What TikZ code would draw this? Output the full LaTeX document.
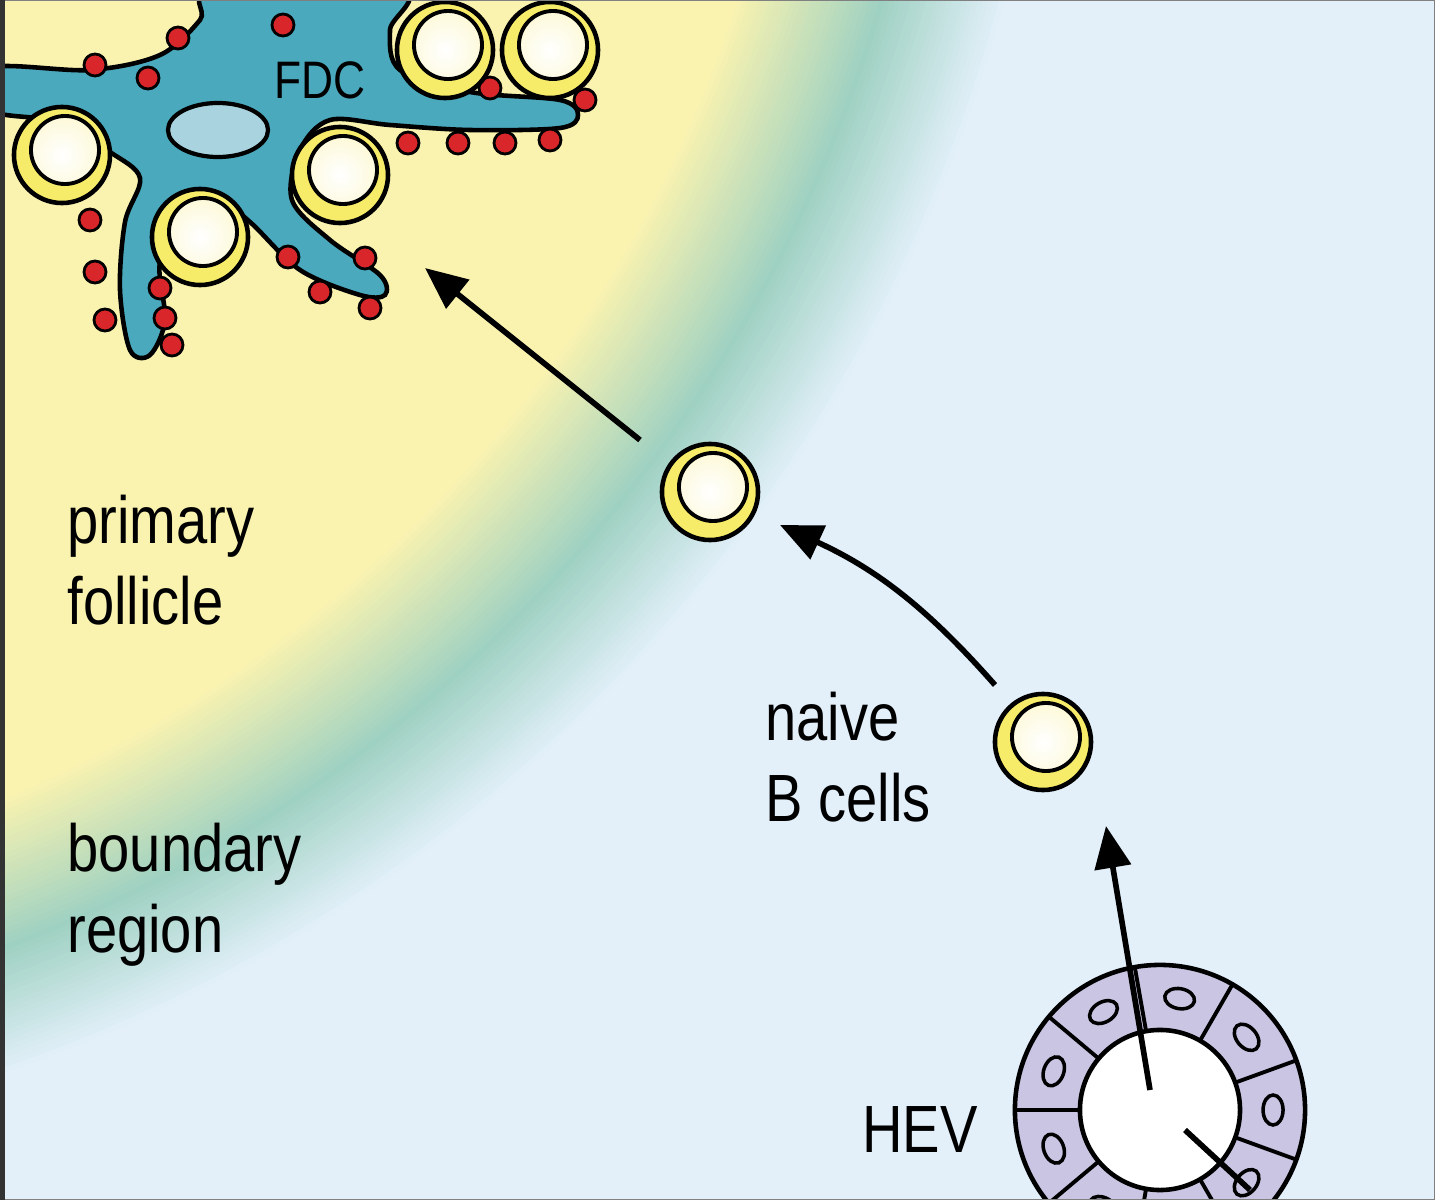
\documentclass[tikz,border=0pt]{standalone}
\usepackage{fontspec}
\setmainfont[FakeStretch=0.84]{Liberation Sans}
\usetikzlibrary{arrows.meta}
\definecolor{bgblue}{HTML}{E3F0FA}
\definecolor{fyellow}{HTML}{FAF3B0}
\definecolor{fgreen}{HTML}{9FD1C2}
\definecolor{fdcteal}{HTML}{4AA9BD}
\definecolor{nucblue}{HTML}{A9D4DF}
\definecolor{hevpurple}{HTML}{C9C5E2}
\definecolor{cellyel}{HTML}{F7EC6A}
\definecolor{dotred}{HTML}{D8262A}
\tikzset{
  bcell/.style={circle,draw=black,line width=1.3pt,fill=cellyel,minimum size=0.96cm,inner sep=0pt,
    path picture={\shade[inner color=white,outer color=fyellow!60!white,draw=black,line width=1.1pt]
      ([shift={(0.03cm,0.05cm)}]path picture bounding box.center) circle (0.34cm);}},
  reddot/.style={fill=dotred,draw=black,line width=0.8pt},
  label/.style={font=\fontsize{19}{23}\selectfont,align=left,anchor=west},
  move/.style={-{Triangle[length=0.42cm,width=0.36cm]},line width=1.6pt}
}
\begin{document}
\begin{tikzpicture}[x=0.01cm,y=-0.01cm]
\useasboundingbox (0,0) rectangle (1435,1200);
\begin{scope}
\clip (0,0) rectangle (1435,1200);
\fill[bgblue] (0,0) rectangle (1435,1200);
\coordinate (cen) at (-500,-400);
% follicle edge
\foreach \r in {156,155.5,...,144}{
  \pgfmathsetmacro\p{(156-\r)/12*100}
  \fill[fgreen!\p!bgblue] (cen) circle (\r mm);}
\foreach \r in {144,143.5,...,130}{
  \pgfmathsetmacro\p{(144-\r)/14*100}
  \fill[fyellow!\p!fgreen] (cen) circle (\r mm);}
\fill[fyellow] (cen) circle (130mm);
% FDC
\node[bcell,minimum size=1.4cm] (top) at (290,-30) {};
\draw[fill=fdcteal,line width=1.3pt] plot[smooth cycle,tension=0.55] coordinates {
 (-10,68) (90,70) (160,55) (200,20) (215,-10) (400,-10) (390,30) (400,70) (470,92)
 (560,100) (578,115) (560,128) (470,130) (390,125) (330,120) (300,150) (292,200)
 (330,240) (380,275) (385,295) (360,295) (300,270) (250,222) (210,192) (185,212)
 (160,262) (165,320) (150,355) (130,350) (120,290) (125,222) (140,178) (110,152)
 (60,122) (-10,110)};
\draw[fill=nucblue,line width=1.2pt] (218,130) ellipse (0.5cm and 0.27cm);
\node at (320,80) {\fontsize{15}{18}\selectfont FDC};
\foreach \x/\y in {95/65,148/78,178/38,283/25,490/88,585/100,408/143,458/143,505/143,
  550/140,90/220,95/272,105/320,160/288,165/318,172/345,288/257,320/292,365/258,370/308}
  \draw[reddot] (\x,\y) circle (0.11cm);
\node[bcell] (f1) at (62,155) {};
\node[bcell] (f2) at (200,237) {};
\node[bcell] (f3) at (340,175) {};
\node[bcell] (f4) at (445,50) {};
\node[bcell] (f5) at (550,50) {};
% HEV
\coordinate (hev) at (1160,1110);
\draw[fill=hevpurple,line width=1.3pt] (hev) circle (1.45cm);
\foreach \a in {20,60,100,140,180,220,260,300,340}{
  \draw[line width=1.1pt] (hev) ++(\a:0.8cm) -- ++(\a:0.65cm);
  \draw[line width=1pt] (hev) ++(\a+20:1.13cm) ellipse [x radius=0.1cm,y radius=0.15cm,rotate=\a+20];}
\draw[fill=white,line width=1.3pt] (hev) circle (0.8cm);
\coordinate (lumen) at (1150,1090);
\coordinate (exit) at (1185,1130);
\draw[line width=1.6pt] (exit) -- (1250,1190);
% naive B cells
\node[bcell] (b2) at (1043,742) {};
\node[bcell] (b1) at (710,492) {};
\coordinate (b2in) at (1106,826);
\coordinate (fdcend) at (425,268);
\draw[move] (lumen) -- (b2in);
\draw[move] (995,685) to[bend right=12] (780,525);
\draw[move] (640,440) -- (fdcend);
\end{scope}
\draw[gray,line width=0.8pt] (0,0) rectangle (1435,1200);
\draw[black!80,line width=3pt] (0,0) -- (0,1200);
\node[label] (prim) at (55,560) {primary\\follicle};
\node[label] (bound) at (55,895) {boundary\\region};
\node[label] (naive) at (753,757) {naive\\B cells};
\node[label] (hevlab) at (850,1130) {HEV};
\end{tikzpicture}
\end{document}
